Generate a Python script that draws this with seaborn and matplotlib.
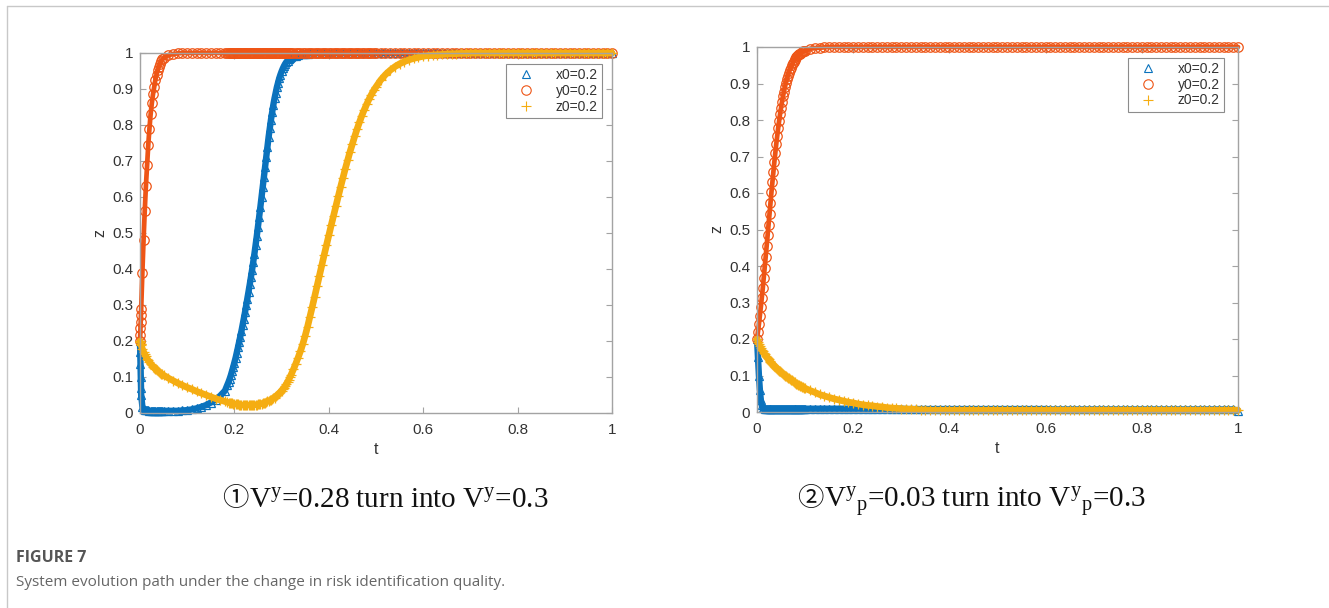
import matplotlib
matplotlib.use("Agg")
import matplotlib.pyplot as plt
import pandas as pd
import seaborn as sns
from matplotlib.lines import Line2D

# ---------------- data ----------------
SERIES = ["x0=0.2", "y0=0.2", "z0=0.2"]

# Panel 1 time grid
T1 = [0, 0.0005, 0.001, 0.0015, 0.002, 0.0025, 0.005, 0.0075, 0.01, 0.0125,
      0.015, 0.0175, 0.02, 0.0225, 0.025, 0.0275, 0.03, 0.0325, 0.035, 0.0375,
      0.04, 0.0425, 0.045, 0.0475, 0.05,
      0.06, 0.07, 0.08, 0.09, 0.10, 0.11, 0.12, 0.13, 0.14, 0.15, 0.16, 0.17, 0.18,
      0.185, 0.1875, 0.19, 0.1925, 0.195, 0.1975, 0.2, 0.2025, 0.205, 0.2075,
      0.21, 0.2125, 0.215, 0.2175, 0.22, 0.2225, 0.225, 0.2275, 0.23, 0.2325,
      0.235, 0.2375, 0.24, 0.2425, 0.245, 0.2475, 0.25, 0.2525, 0.255, 0.2575,
      0.26, 0.2625, 0.265, 0.2675, 0.27, 0.2725, 0.275, 0.2775, 0.28, 0.2825,
      0.285, 0.2875, 0.29, 0.2925, 0.295, 0.2975, 0.3, 0.3025, 0.305, 0.3075,
      0.31, 0.3125, 0.315, 0.3175, 0.32,
      0.325, 0.33, 0.335, 0.34, 0.345, 0.35, 0.355, 0.36, 0.365, 0.37,
      0.375, 0.38, 0.385, 0.39, 0.395, 0.4, 0.405, 0.41, 0.415, 0.42,
      0.425, 0.43, 0.435, 0.44, 0.445, 0.45, 0.455, 0.46, 0.465, 0.47,
      0.475, 0.48, 0.485, 0.49, 0.495, 0.5,
      0.51, 0.52, 0.53, 0.54, 0.55, 0.56, 0.57, 0.58, 0.59, 0.60,
      0.61, 0.62, 0.63, 0.64, 0.65, 0.66, 0.67, 0.68, 0.69, 0.70,
      0.71, 0.72, 0.73, 0.74, 0.75, 0.76, 0.77, 0.78, 0.79, 0.80,
      0.81, 0.82, 0.83, 0.84, 0.85, 0.86, 0.87, 0.88, 0.89, 0.90,
      0.91, 0.92, 0.93, 0.94, 0.95, 0.96, 0.97, 0.98, 0.99, 1.00]

X1 = [0.200, 0.170, 0.135, 0.100, 0.070, 0.050, 0.018, 0.011, 0.009, 0.008,
      0.007, 0.007, 0.006, 0.006, 0.006, 0.006, 0.006, 0.006, 0.006, 0.006,
      0.006, 0.006, 0.006, 0.006, 0.006,
      0.006, 0.006, 0.006, 0.007, 0.008, 0.010, 0.013, 0.017, 0.022, 0.029,
      0.037, 0.048, 0.062,
      0.078, 0.086, 0.095, 0.105, 0.116, 0.128, 0.140, 0.153, 0.167, 0.182,
      0.197, 0.212, 0.228, 0.245, 0.262, 0.280, 0.299, 0.318, 0.337, 0.357,
      0.377, 0.398, 0.420, 0.443, 0.467, 0.492, 0.518, 0.545, 0.572, 0.600,
      0.628, 0.656, 0.684, 0.712, 0.740, 0.767, 0.792, 0.815, 0.836, 0.856,
      0.874, 0.890, 0.905, 0.918, 0.930, 0.940, 0.949, 0.957, 0.964, 0.970,
      0.975, 0.979, 0.983, 0.986, 0.988,
      0.991, 0.993, 0.995, 0.996, 0.997, 0.998, 0.998, 0.999,
      1, 1, 1, 1, 1, 1, 1, 1, 1, 1,
      1, 1, 1, 1, 1, 1, 1, 1, 1, 1,
      1, 1, 1, 1, 1, 1, 1, 1, 1, 1,
      1, 1, 1, 1, 1, 1, 1, 1, 1, 1,
      1, 1, 1, 1, 1, 1, 1, 1, 1, 1,
      1, 1, 1, 1, 1, 1, 1, 1, 1, 1,
      1, 1, 1, 1, 1, 1, 1, 1, 1, 1,
      1, 1, 1, 1, 1, 1, 1, 1]

Y1 = [0.200, 0.218, 0.236, 0.254, 0.272, 0.290, 0.390, 0.480, 0.560, 0.630,
      0.690, 0.745, 0.790, 0.830, 0.860, 0.885, 0.905, 0.925, 0.940, 0.952,
      0.962, 0.970, 0.977, 0.982, 0.986,
      0.994, 0.997, 0.999,
      1, 1, 1, 1, 1, 1, 1, 1, 1, 1,
      1, 1, 1, 1, 1, 1, 1, 1, 1, 1,
      1, 1, 1, 1, 1, 1, 1, 1, 1, 1,
      1, 1, 1, 1, 1, 1, 1, 1, 1, 1,
      1, 1, 1, 1, 1, 1, 1, 1, 1, 1,
      1, 1, 1, 1, 1, 1, 1, 1, 1, 1,
      1, 1, 1, 1, 1, 1, 1, 1, 1, 1,
      1, 1, 1, 1, 1, 1, 1, 1, 1, 1,
      1, 1, 1, 1, 1, 1, 1, 1, 1, 1,
      1, 1, 1, 1, 1, 1, 1, 1, 1, 1,
      1, 1, 1, 1, 1, 1, 1, 1, 1, 1,
      1, 1, 1, 1, 1, 1, 1, 1, 1, 1,
      1, 1, 1, 1, 1, 1, 1, 1, 1, 1,
      1, 1, 1, 1, 1, 1, 1, 1, 1, 1,
      1, 1, 1, 1, 1, 1, 1, 1, 1, 1,
      1]

Z1 = [0.200, 0.198, 0.196, 0.193, 0.191, 0.188, 0.178, 0.170, 0.163, 0.157,
      0.151, 0.146, 0.141, 0.137, 0.133, 0.129, 0.126, 0.123, 0.120, 0.117,
      0.114, 0.112, 0.109, 0.107, 0.105,
      0.097, 0.090, 0.083, 0.077, 0.071, 0.066, 0.060, 0.055, 0.050, 0.045,
      0.040, 0.036, 0.032,
      0.030, 0.029, 0.028, 0.027, 0.027, 0.026, 0.025, 0.025, 0.024, 0.024,
      0.023, 0.023, 0.022, 0.022, 0.022, 0.022, 0.022, 0.022, 0.022, 0.022,
      0.022, 0.022, 0.023, 0.023, 0.023, 0.023, 0.024,
      0.024, 0.025, 0.026, 0.027, 0.028, 0.029, 0.031, 0.032, 0.034, 0.035,
      0.037, 0.039, 0.041, 0.043, 0.046, 0.049, 0.052, 0.055, 0.058, 0.062,
      0.066, 0.070, 0.075, 0.080, 0.086, 0.092, 0.099, 0.106,
      0.121, 0.137, 0.154, 0.172, 0.192, 0.215, 0.240, 0.267, 0.295, 0.323,
      0.352, 0.381, 0.410, 0.438, 0.466, 0.494, 0.521, 0.548, 0.575, 0.602,
      0.628, 0.654, 0.679, 0.703, 0.726, 0.748, 0.769, 0.789, 0.808, 0.826,
      0.842, 0.857, 0.871, 0.884, 0.896, 0.906,
      0.925, 0.940, 0.952, 0.962, 0.970, 0.976, 0.981, 0.985, 0.988, 0.991,
      0.993, 0.994, 0.995, 0.996, 0.997, 0.998, 0.998, 0.999, 0.999,
      1, 1, 1, 1, 1, 1, 1, 1, 1, 1,
      1, 1, 1, 1, 1, 1, 1, 1, 1, 1,
      1, 1, 1, 1, 1, 1, 1, 1, 1, 1,
      1]

# Panel 2 time grid
T2 = [0, 0.002, 0.004, 0.006, 0.008, 0.010, 0.012, 0.014, 0.016, 0.018,
      0.020, 0.022, 0.024, 0.026, 0.028, 0.030, 0.032, 0.034, 0.036, 0.038,
      0.040, 0.042, 0.044, 0.046, 0.048, 0.050, 0.052, 0.054, 0.056, 0.058,
      0.060, 0.062, 0.064, 0.066, 0.068, 0.070, 0.072, 0.074, 0.076, 0.078,
      0.080, 0.082, 0.084, 0.086, 0.088, 0.090, 0.092, 0.094, 0.096, 0.098,
      0.100,
      0.11, 0.12, 0.13, 0.14, 0.15, 0.16, 0.17, 0.18, 0.19, 0.20,
      0.21, 0.22, 0.23, 0.24, 0.25, 0.26, 0.27, 0.28, 0.29, 0.30,
      0.31, 0.32, 0.33, 0.34, 0.35, 0.36, 0.37, 0.38, 0.39, 0.40,
      0.41, 0.42, 0.43, 0.44, 0.45, 0.46, 0.47, 0.48, 0.49, 0.50,
      0.51, 0.52, 0.53, 0.54, 0.55, 0.56, 0.57, 0.58, 0.59, 0.60,
      0.61, 0.62, 0.63, 0.64, 0.65, 0.66, 0.67, 0.68, 0.69, 0.70,
      0.71, 0.72, 0.73, 0.74, 0.75, 0.76, 0.77, 0.78, 0.79, 0.80,
      0.81, 0.82, 0.83, 0.84, 0.85, 0.86, 0.87, 0.88, 0.89, 0.90,
      0.91, 0.92, 0.93, 0.94, 0.95, 0.96, 0.97, 0.98, 0.99, 1.00]

X2 = [0.200, 0.150, 0.100, 0.060, 0.032, 0.018, 0.012, 0.010,
      0.009, 0.009, 0.009, 0.009, 0.009, 0.009, 0.009, 0.009, 0.009, 0.009,
      0.009, 0.009, 0.009, 0.009, 0.009, 0.009, 0.009, 0.009, 0.009, 0.009,
      0.009, 0.009, 0.009, 0.009, 0.009, 0.009, 0.009, 0.009, 0.009, 0.009,
      0.009, 0.009, 0.009, 0.009, 0.009, 0.009, 0.009, 0.009, 0.009, 0.009,
      0.009, 0.009, 0.009, 0.009, 0.009, 0.009, 0.009, 0.009, 0.009, 0.009,
      0.009, 0.009, 0.009, 0.009, 0.009, 0.009, 0.009, 0.009, 0.009, 0.009,
      0.009, 0.009, 0.009,
      0.008, 0.008, 0.008, 0.008, 0.008, 0.008, 0.008, 0.008, 0.008, 0.008,
      0.008, 0.008, 0.008, 0.008, 0.008, 0.008, 0.008, 0.008, 0.008, 0.008,
      0.008, 0.008, 0.008, 0.008, 0.008, 0.008, 0.008, 0.008, 0.008, 0.008,
      0.007, 0.007, 0.007, 0.007, 0.007, 0.007, 0.007, 0.007, 0.007, 0.007,
      0.007, 0.007, 0.007, 0.007, 0.007, 0.007, 0.007, 0.007, 0.007, 0.007,
      0.007, 0.007, 0.007, 0.007, 0.007, 0.007, 0.007, 0.007, 0.007, 0.007,
      0.007, 0.007, 0.007, 0.007, 0.007, 0.007, 0.007, 0.007, 0.007, 0.004]

Y2 = [0.200, 0.220, 0.241, 0.264, 0.288, 0.313, 0.339, 0.367, 0.395, 0.424,
      0.454, 0.484, 0.513, 0.543, 0.573, 0.602, 0.630, 0.658, 0.684, 0.710,
      0.734, 0.757, 0.778, 0.798, 0.817, 0.834, 0.850, 0.865, 0.878, 0.890,
      0.901, 0.912, 0.921, 0.929, 0.937, 0.943, 0.950, 0.955, 0.960, 0.964,
      0.968, 0.972, 0.975, 0.978, 0.980, 0.982, 0.984, 0.986, 0.988, 0.989,
      0.990,
      0.995, 0.997, 0.998, 0.999,
      1, 1, 1, 1, 1, 1, 1, 1, 1, 1,
      1, 1, 1, 1, 1, 1, 1, 1, 1, 1,
      1, 1, 1, 1, 1, 1, 1, 1, 1, 1,
      1, 1, 1, 1, 1, 1, 1, 1, 1, 1,
      1, 1, 1, 1, 1, 1, 1, 1, 1, 1,
      1, 1, 1, 1, 1, 1, 1, 1, 1, 1,
      1, 1, 1, 1, 1, 1, 1, 1, 1, 1,
      1, 1, 1, 1, 1, 1, 1, 1, 1, 1,
      1, 1, 1, 1, 1, 1]

Z2 = [0.200, 0.193, 0.187, 0.181, 0.176, 0.171, 0.166, 0.162, 0.158, 0.154,
      0.150, 0.147, 0.144, 0.141, 0.138, 0.135, 0.132, 0.129, 0.126, 0.123,
      0.121, 0.118, 0.116, 0.113, 0.111, 0.109, 0.106, 0.104, 0.102, 0.100,
      0.098, 0.096, 0.094, 0.092, 0.090, 0.088, 0.087, 0.085, 0.083, 0.081,
      0.080, 0.078, 0.077, 0.075, 0.074, 0.072, 0.071, 0.069, 0.068, 0.067,
      0.065,
      0.059, 0.054, 0.048, 0.044, 0.040, 0.036, 0.033, 0.030, 0.027, 0.025,
      0.022, 0.020, 0.018, 0.017, 0.015, 0.014, 0.012, 0.011, 0.010, 0.009,
      0.008, 0.008, 0.007, 0.006, 0.006,
      0.005, 0.005, 0.005, 0.005, 0.005, 0.005, 0.005, 0.005, 0.005, 0.005,
      0.005, 0.005, 0.005, 0.005, 0.005, 0.005, 0.005, 0.005, 0.005, 0.005,
      0.005, 0.005, 0.005, 0.005, 0.005, 0.005, 0.005, 0.005, 0.005, 0.005,
      0.005, 0.005, 0.005, 0.005, 0.005, 0.005, 0.005, 0.005, 0.005, 0.005,
      0.005, 0.005, 0.005, 0.005, 0.005, 0.005, 0.005, 0.005, 0.005, 0.005,
      0.005, 0.005, 0.005, 0.005, 0.005, 0.005, 0.005, 0.005, 0.005, 0.005,
      0.005, 0.005, 0.005, 0.005, 0.005]

XTICKS = [0, 0.2, 0.4, 0.6, 0.8, 1]
XTICKLABELS = ["0", "0.2", "0.4", "0.6", "0.8", "1"]
YTICKS = [0, 0.1, 0.2, 0.3, 0.4, 0.5, 0.6, 0.7, 0.8, 0.9, 1]
YTICKLABELS = ["0", "0.1", "0.2", "0.3", "0.4", "0.5", "0.6", "0.7", "0.8", "0.9", "1"]
XLABEL = "t"
YLABEL = "z"
CAPTION_NUMS = ["\u2460", "\u2461"]
CAPTIONS = [r"$\mathrm{V}^{\mathrm{y}}$=0.28 turn into $\mathrm{V}^{\mathrm{y}}$=0.3",
            r"$\mathrm{V}^{\mathrm{y}}{}_{\mathrm{p}}$=0.03 turn into $\mathrm{V}^{\mathrm{y}}{}_{\mathrm{p}}$=0.3"]
FIG_LABEL = "FIGURE 7"
FIG_CAPTION = "System evolution path under the change in risk identification quality."

for T, arrs in [(T1, (X1, Y1, Z1)), (T2, (X2, Y2, Z2))]:
    for a in arrs:
        assert len(a) == len(T), (len(a), len(T))

# ---------------- style ----------------
sns.set_style("white")
plt.rcParams["font.family"] = ["Liberation Sans", "DejaVu Sans"]
plt.rcParams["mathtext.fontset"] = "custom"
plt.rcParams["mathtext.rm"] = "Liberation Serif"
plt.rcParams["mathtext.it"] = "Liberation Serif:italic"
plt.rcParams["mathtext.bf"] = "Liberation Serif:bold"

W, H = 1329, 608
fig = plt.figure(figsize=(W / 100, H / 100), dpi=100)
fig.patch.set_facecolor("white")

C_BLUE = "#0a72bd"
C_RED = "#ee5516"
C_YEL = "#f5ad12"
# marker, colour, marker size, width of the dense band through the samples
STYLES = [("^", C_BLUE, 6.4, 4.6), ("o", C_RED, 6.8, 3.4), ("+", C_YEL, 6.6, 4.8)]
SPINE = "#a3a3a3"

def px_axes(l, t, r, b):
    return [l / W, 1 - b / H, (r - l) / W, (b - t) / H]

ax1 = fig.add_axes(px_axes(140, 53, 612, 413))
ax2 = fig.add_axes(px_axes(757, 47, 1238, 412))

panels = [(ax1, T1, (X1, Y1, Z1), (0.979, 0.969)),
          (ax2, T2, (X2, Y2, Z2), (0.971, 0.970))]

for ax, T, vals, legpos in panels:
    handles = []
    for (mk, col, ms, lw), lab, v in zip(STYLES, SERIES, vals):
        df = pd.DataFrame({"t": T, "v": v})
        # dense band of the solver output
        sns.lineplot(data=df, x="t", y="v", ax=ax, estimator=None, sort=False,
                     color=col, linewidth=lw, solid_capstyle="round",
                     clip_on=False, legend=False)
        sns.lineplot(data=df, x="t", y="v", ax=ax, estimator=None, sort=False,
                     linestyle="none", marker=mk, markersize=ms,
                     markerfacecolor="none" if mk != "+" else col,
                     markeredgecolor=col, markeredgewidth=0.9,
                     color=col, clip_on=False, legend=False)
        handles.append(Line2D([], [], linestyle="none", marker=mk, markersize=ms,
                              markerfacecolor="none", markeredgecolor=col,
                              markeredgewidth=0.8, label=lab))
    ax.set_xlim(0, 1)
    ax.set_ylim(0, 1)
    ax.set_xticks(XTICKS)
    ax.set_xticklabels(XTICKLABELS)
    ax.set_yticks(YTICKS)
    ax.set_yticklabels(YTICKLABELS)
    ax.set_xlabel(XLABEL, fontsize=11.5, color="#333333", labelpad=4)
    ax.set_ylabel(YLABEL, fontsize=11.5, color="#333333", labelpad=3)
    for s in ax.spines.values():
        s.set_color(SPINE)
        s.set_linewidth(1.0)
        s.set_visible(True)
    ax.tick_params(direction="in", length=4, width=0.8, color=SPINE,
                   labelcolor="#333333", labelsize=11, top=True, right=True,
                   bottom=True, left=True)
    ax.tick_params(axis="x", pad=7)
    ax.tick_params(axis="y", pad=5)
    ax.grid(False)
    leg = ax.legend(handles=handles, loc="upper right", bbox_to_anchor=legpos,
                    fontsize=10, frameon=True, fancybox=False, edgecolor="#8c8c8c",
                    framealpha=1, handlelength=2.3, handletextpad=1.0,
                    borderpad=0.3, labelspacing=0.12, borderaxespad=0)
    leg.get_frame().set_linewidth(0.8)
    for txt in leg.get_texts():
        txt.set_color("#333333")

# ---------------- captions ----------------
cap_pos = [(249, 508), (824, 508)]
for (cx, cy), num, cap in zip(cap_pos, CAPTION_NUMS, CAPTIONS):
    fig.text(cx / W, 1 - cy / H, cap, fontsize=21, family="Liberation Serif",
             color="#111111", ha="left", va="baseline")
    fig.text((cx - 1) / W, 1 - (cy - 9) / H, num, fontsize=19,
             family=["Noto Sans CJK SC", "DejaVu Sans"], color="#111111",
             ha="right", va="center")

fig.text(16 / W, 1 - 558 / H, FIG_LABEL, fontsize=11.5, fontweight="bold",
         family=["Open Sans", "DejaVu Sans"], color="#555555", ha="left", va="center")
fig.text(16 / W, 1 - 582 / H, FIG_CAPTION, fontsize=11,
         family=["Open Sans", "DejaVu Sans"], color="#666666", ha="left", va="center")

# outer frame lines of the figure panel
fig.add_artist(Line2D([7 / W, 1], [1 - 6 / H, 1 - 6 / H], transform=fig.transFigure,
                      color="#c8c8c8", linewidth=1.0))
fig.add_artist(Line2D([7 / W, 7 / W], [0, 1 - 6 / H], transform=fig.transFigure,
                      color="#c8c8c8", linewidth=1.0))

fig.savefig("out.png", dpi=100, facecolor="white")
